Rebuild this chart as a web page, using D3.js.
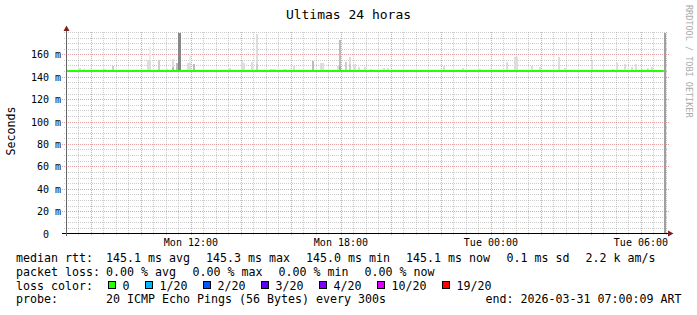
<!DOCTYPE html>
<html><head><meta charset="utf-8">
<script src="https://cdn.jsdelivr.net/npm/d3@7"></script>
<style>
html,body{margin:0;padding:0;background:#fff;}
svg{display:block;}
text{font-family:"DejaVu Sans Mono",monospace;white-space:pre;}
</style></head><body>
<svg id="c" width="697" height="315"></svg>
<script>
// ---------- data ----------
const title = "Ultimas 24 horas";
const yAxisTitle = "Seconds";
const watermark = "RRDTOOL / TOBI OETIKER";
const startTime = "2026-03-30T07:00:09";
const endTime = "2026-03-31T07:00:09";
const yMax = 180;
const yTickValues = [0, 20, 40, 60, 80, 100, 120, 140, 160];
const yTickLabels = ["0  ", "20 m", "40 m", "60 m", "80 m", "100 m", "120 m", "140 m", "160 m"];
const xTickTimes = ["2026-03-30T12:00", "2026-03-30T18:00", "2026-03-31T00:00", "2026-03-31T06:00"];
const xTickLabels = ["Mon 12:00", "Mon 18:00", "Tue 00:00", "Tue 06:00"];

const medianTimes = ["2026-03-30T07:00:09", "2026-03-31T06:55"];
const medianValues = [145.1, 145.1];

const smokeBase = 144.8;
const smokeTimes = [
"2026-03-30T07:30","2026-03-30T07:40","2026-03-30T08:30","2026-03-30T08:50",
"2026-03-30T10:15","2026-03-30T10:20","2026-03-30T10:20","2026-03-30T10:40",
"2026-03-30T11:00","2026-03-30T11:15","2026-03-30T11:15","2026-03-30T11:25",
"2026-03-30T11:30","2026-03-30T11:50","2026-03-30T11:55","2026-03-30T11:55",
"2026-03-30T12:05","2026-03-30T13:30","2026-03-30T14:00","2026-03-30T14:05",
"2026-03-30T14:25","2026-03-30T14:35","2026-03-30T14:35","2026-03-30T15:10",
"2026-03-30T15:15","2026-03-30T15:20","2026-03-30T15:40","2026-03-30T15:45",
"2026-03-30T16:05","2026-03-30T16:50","2026-03-30T17:10","2026-03-30T17:15",
"2026-03-30T17:50","2026-03-30T17:55","2026-03-30T17:55","2026-03-30T18:10",
"2026-03-30T18:20","2026-03-30T18:20","2026-03-30T18:30","2026-03-30T18:40",
"2026-03-30T18:55","2026-03-30T19:10","2026-03-30T19:40","2026-03-30T19:50",
"2026-03-30T22:05","2026-03-30T22:50","2026-03-30T23:30","2026-03-31T00:35",
"2026-03-31T00:55","2026-03-31T01:00","2026-03-31T01:35","2026-03-31T01:55",
"2026-03-31T02:40","2026-03-31T02:55","2026-03-31T04:00","2026-03-31T04:50",
"2026-03-31T05:00","2026-03-31T05:20","2026-03-31T05:35","2026-03-31T05:45",
"2026-03-31T06:00","2026-03-31T06:15","2026-03-31T06:25"
];
const smokeHigh = [
147.8,147,147,149.5,
155,166.5,155,155,
147,155.5,148.5,152,
179,152,160,152,
151,148,154,152,
153,178,151,147,
147,147,147,147,
150,154.3,152,152,
150,173,150,153,
157.6,151,151,149,
149,147,148,148,
150,148,147,153,
158,158,150,149,
158,148,154,147,
152,151,149,151,
147,148,149
];
// how deep into the ping distribution the band lies (0 = outermost ping)
const smokeBand = [
1,1,1,2,
1,0,1,2,
1,1,3,3,
6,1,0,1,
3,1,1,1,
1,1,2,1,
1,1,1,1,
1,3,1,1,
1,3,4,2,
1,2,1,1,
1,1,1,1,
1,1,1,1,
1,1,1,1,
1,1,1,1,
1,1,1,1,
1,1,1
];
const unknownTimes = ["2026-03-31T06:55"];

const statsLabels = ["median rtt:", "packet loss:", "loss color:", "probe:"];
const rttStats = ["145.1 ms avg", "145.3 ms max", "145.0 ms min", "145.1 ms now", "0.1 ms sd", "2.2 k am/s"];
const lossStats = ["0.00 % avg", "0.00 % max", "0.00 % min", "0.00 % now"];
const lossLabels = ["0", "1/20", "2/20", "3/20", "4/20", "10/20", "19/20"];
const lossColors = ["#26ff00", "#00b8ff", "#0059ff", "#5e00ff", "#7e00ff", "#dd00ff", "#ff0000"];
const probeText = "20 ICMP Echo Pings (56 Bytes) every 300s";
const endText = "end: 2026-03-31 07:00:09 ART";

// ---------- drawing ----------
const parse = d3.timeParse("%Y-%m-%dT%H:%M:%S");
const parseM = d3.timeParse("%Y-%m-%dT%H:%M");
const P = s => parse(s) || parseM(s);
const svg = d3.select("#c");
const t0 = P(startTime), t1 = P(endTime);
const x = d3.scaleTime().domain([t0, t1]).range([66, 666]);
const y = d3.scaleLinear().domain([0, yMax]).range([233.5, 31.9]);
const px = v => Math.round(v) + 0.5;

svg.append("rect").attr("width", 697).attr("height", 315).attr("fill", "#fff");

const grid = svg.append("g").attr("fill", "none").attr("stroke-width", 1).attr("stroke-dasharray", "1,1");
// horizontal minor / major
d3.range(5, yMax + 1, 5).forEach(v => {
  const major = v % 20 === 0 && v < yMax;
  grid.append("line")
    .attr("x1", major ? 62 : 64).attr("x2", major ? 669 : 668)
    .attr("y1", px(y(v))).attr("y2", px(y(v)))
    .attr("stroke", major ? "rgba(200,40,40,0.45)" : "rgba(140,140,140,0.45)");
});
// vertical minor / major
d3.timeMinute.every(30).range(t0, t1).forEach(t => {
  const major = t.getMinutes() === 0 && t.getHours() % 2 === 0;
  grid.append("line")
    .attr("x1", px(x(t))).attr("x2", px(x(t)))
    .attr("y1", y(yMax)).attr("y2", major ? 236 : 235)
    .attr("stroke", major ? "rgba(200,40,40,0.45)" : "rgba(140,140,140,0.45)");
});

// smoke
const step = 5 * 60 * 1000;
const smoke = smokeTimes.map((s, i) => ({t: P(s), hi: smokeHigh[i], band: smokeBand[i]}))
  .sort((a, b) => a.band - b.band);
svg.append("g").attr("shape-rendering", "crispEdges").selectAll("rect").data(smoke).join("rect")
  .attr("x", d => x(d.t))
  .attr("width", d => x(new Date(+d.t + step)) - x(d.t))
  .attr("y", d => y(d.hi))
  .attr("height", d => y(smokeBase) - y(d.hi))
  .attr("fill", d => { const g = 238 - 17 * d.band; return d3.rgb(g, g, g); });

// unknown
svg.append("g").attr("shape-rendering", "crispEdges").selectAll("rect").data(unknownTimes).join("rect")
  .attr("x", d => x(P(d)))
  .attr("width", d => x(t1) - x(P(d)))
  .attr("y", y(yMax) + 1)
  .attr("height", y(0) - y(yMax) - 1)
  .attr("fill", "#a0a0a0");

// median line
const med = medianTimes.map((s, i) => [P(s), medianValues[i]]);
svg.append("path").datum(med)
  .attr("d", d3.line().x(d => x(d[0])).y(d => y(d[1])).curve(d3.curveStepAfter))
  .attr("fill", "none").attr("stroke", lossColors[0]).attr("stroke-width", 2);

// axes
svg.append("line").attr("x1", 62).attr("x2", 669).attr("y1", 233.5).attr("y2", 233.5).attr("stroke", "#000");
svg.append("line").attr("x1", 66.5).attr("x2", 66.5).attr("y1", 236).attr("y2", 29).attr("stroke", "#666");
svg.append("path").attr("d", "M66.5,25.5L63.5,31L69.5,31Z").attr("fill", "#7f1f1f");
svg.append("path").attr("d", "M673.5,233.5L668,230.5L668,236.5Z").attr("fill", "#7f1f1f");

// y labels
svg.append("g").selectAll("text").data(yTickValues).join("text")
  .attr("x", 61).attr("y", d => Math.round(y(d)) + 4)
  .attr("text-anchor", "end").attr("font-size", "10px").attr("fill", "#000")
  .text((d, i) => yTickLabels[i]);
// x labels
svg.append("g").selectAll("text").data(xTickTimes).join("text")
  .attr("x", d => x(P(d))).attr("y", 245.5)
  .attr("text-anchor", "middle").attr("font-size", "10px").attr("fill", "#000")
  .text((d, i) => xTickLabels[i]);

// title
svg.append("text").attr("x", 348.5).attr("y", 18.5).attr("text-anchor", "middle")
  .attr("font-size", "13px").attr("fill", "#000").text(title);
// y title
svg.append("text").attr("transform", "translate(14.5,131) rotate(-90)").attr("text-anchor", "middle")
  .attr("font-size", "11.6px").attr("fill", "#000").text(yAxisTitle);
// watermark
svg.append("text").attr("transform", "translate(685.5,5) rotate(90)").attr("text-anchor", "start")
  .attr("font-size", "8.5px").attr("fill", "#aaa").text(watermark);

// legend
const rows = [262, 276, 289.5, 303];
const L = svg.append("g").attr("font-size", "11.63px").attr("fill", "#000");
const tx = (xx, yy, s, anchor) => L.append("text").attr("x", xx).attr("y", yy)
  .attr("text-anchor", anchor || "start").text(s);
statsLabels.forEach((s, i) => tx(16, rows[i], s));
const rttX = [106, 206, 306, 406, 506.5, 585.5];
rttStats.forEach((s, i) => tx(rttX[i], rows[0], s));
const lossX = [106, 192.5, 278.5, 364.5];
lossStats.forEach((s, i) => tx(lossX[i], rows[1], s));
let sx = 108;
lossLabels.forEach((s, i) => {
  L.append("rect").attr("x", sx + 0.5).attr("y", rows[2] - 8).attr("width", 7).attr("height", 7)
    .attr("fill", lossColors[i]).attr("stroke", "#000").attr("stroke-width", 1);
  tx(sx + 14.5, rows[2], s);
  sx += 16 + (s.length + 2) * 7;
});
tx(106, rows[3], probeText);
tx(681.5, rows[3], endText, "end");
</script>
</body></html>
